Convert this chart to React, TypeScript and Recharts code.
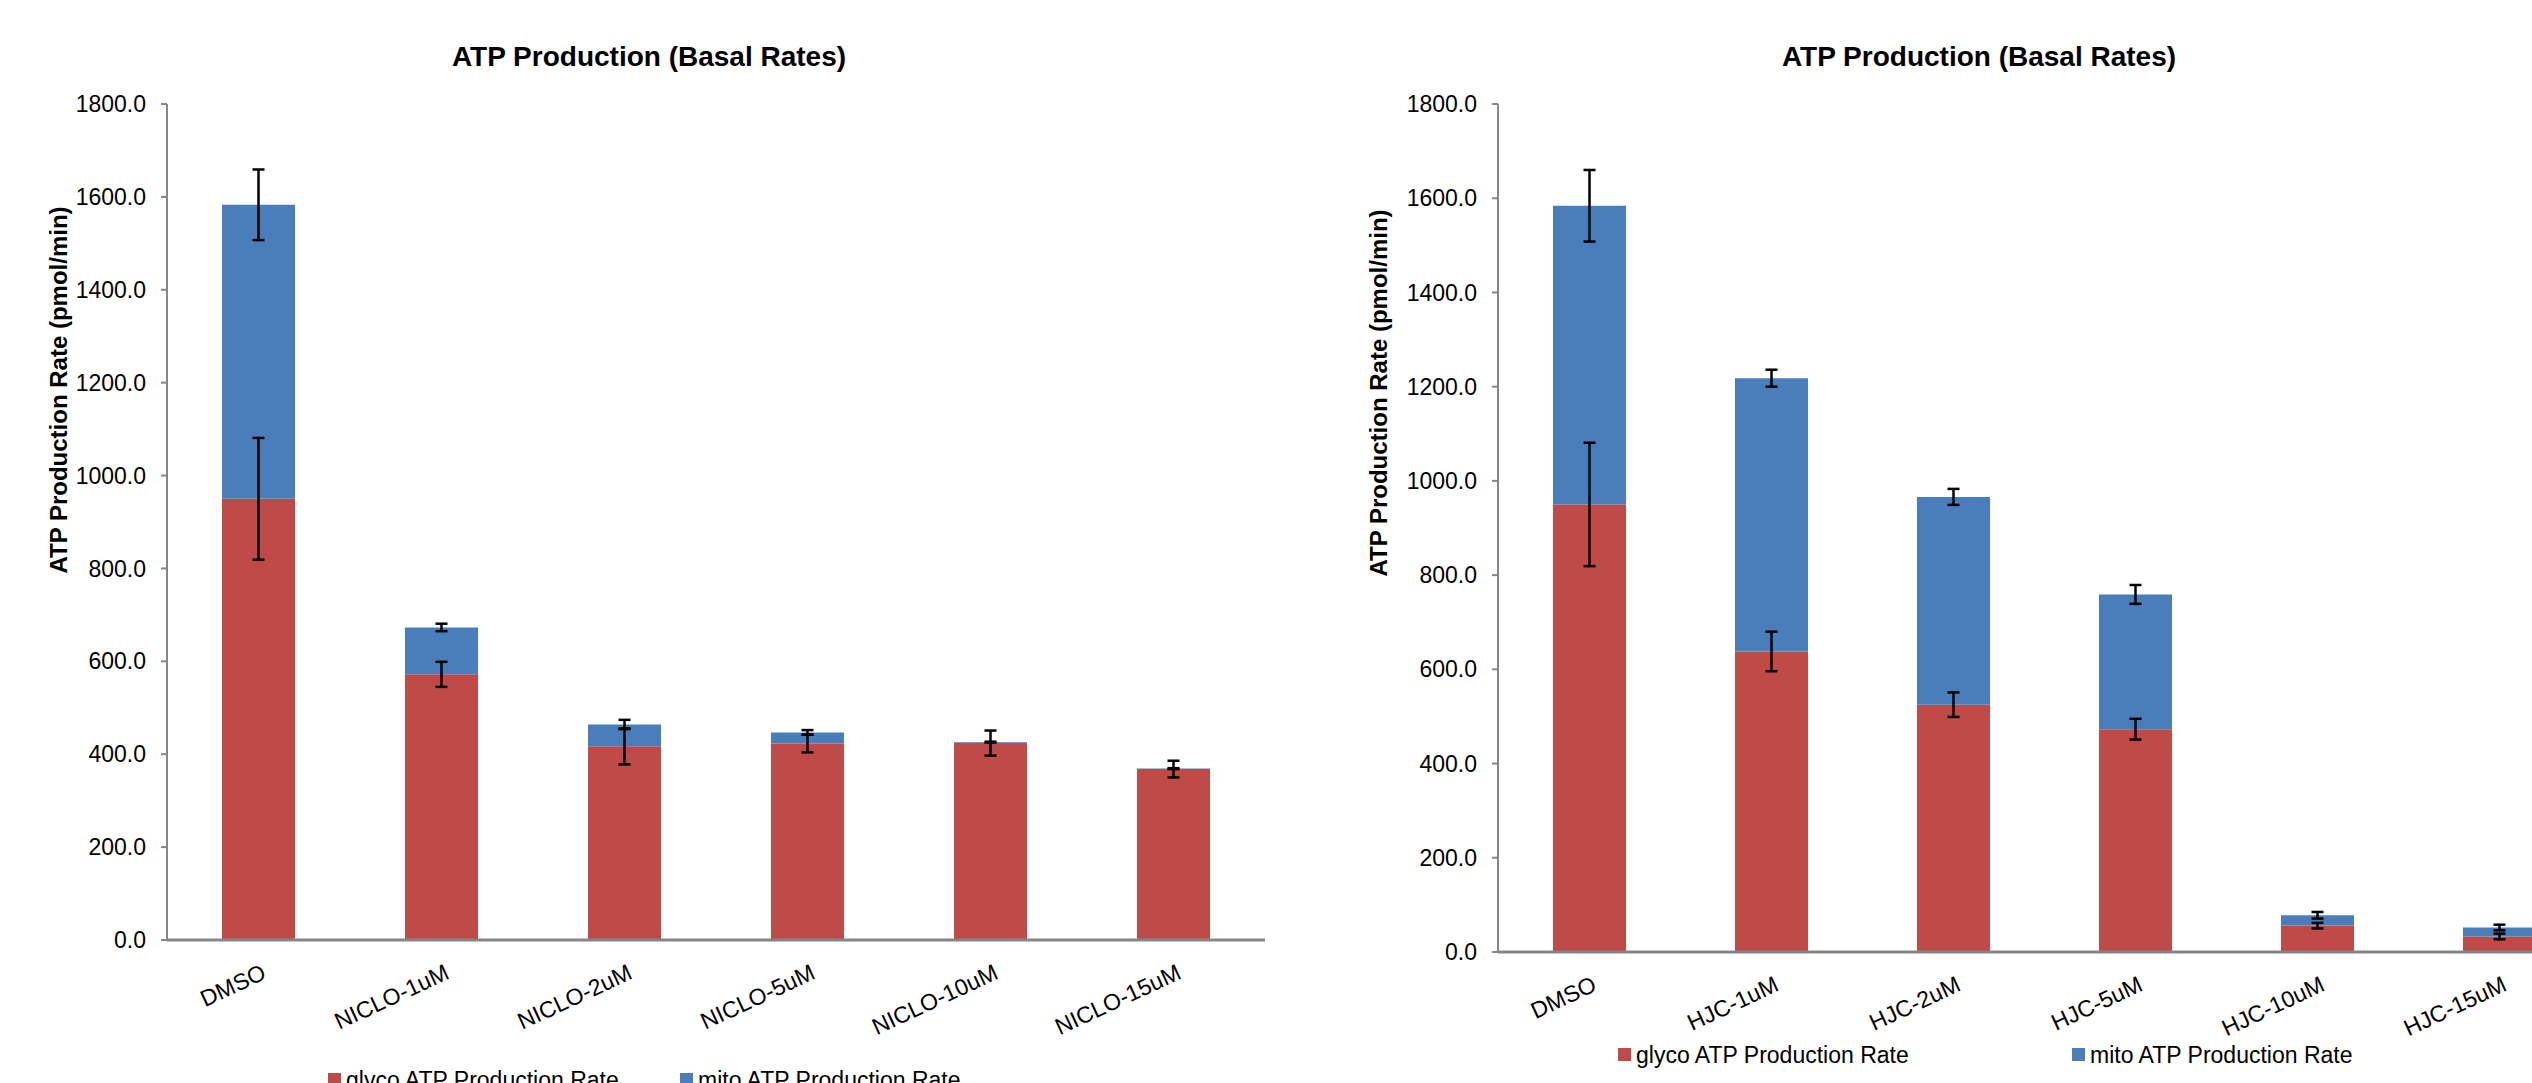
import { BarChart, Bar, XAxis, YAxis, ErrorBar, Label } from "recharts";

const FONT = '"Liberation Sans", Arial, sans-serif';
const RED = "#BE4B48";
const BLUE = "#4A7EBB";
const AXIS = "#868686";

const yTicks = [0, 200, 400, 600, 800, 1000, 1200, 1400, 1600, 1800];

const nicloCategories = ["DMSO", "NICLO-1uM", "NICLO-2uM", "NICLO-5uM", "NICLO-10uM", "NICLO-15uM"];
const nicloGlyco = [950, 572, 417, 423, 424, 368];
const nicloMito = [633, 101, 47, 24, 2, 1];
const nicloGlycoErr = [131, 27, 39, 19, 27, 18];
const nicloMitoErr = [76, 8, 10, 5, 1, 1];

const hjcCategories = ["DMSO", "HJC-1uM", "HJC-2uM", "HJC-5uM", "HJC-10uM", "HJC-15uM"];
const hjcGlyco = [950, 638, 525, 473, 56, 33];
const hjcMito = [634, 580, 441, 286, 22, 19];
const hjcGlycoErr = [131, 42, 26, 22, 6, 6];
const hjcMitoErr = [76, 18, 17, 20, 7, 6];

function buildRows(cats: string[], glyco: number[], mito: number[], gErr: number[], mErr: number[]) {
  return cats.map((name, i) => ({
    name,
    glyco: glyco[i],
    mito: mito[i],
    glycoErr: gErr[i],
    mitoErr: mErr[i],
  }));
}

const nicloRows = buildRows(nicloCategories, nicloGlyco, nicloMito, nicloGlycoErr, nicloMitoErr);
const hjcRows = buildRows(hjcCategories, hjcGlyco, hjcMito, hjcGlycoErr, hjcMitoErr);

function SlantTick(props: any) {
  const { x, y, payload } = props;
  const ax = x + 9;
  const ay = y + 38;
  return (
    <text
      x={ax}
      y={ay}
      transform={`rotate(-25 ${ax} ${ay})`}
      textAnchor="end"
      fontSize={23}
      fontFamily={FONT}
      fill="#000"
    >
      {payload.value}
    </text>
  );
}

interface PanelProps {
  rows: ReturnType<typeof buildRows>;
  left: number;
  width: number;
  margin: { top: number; right: number; bottom: number; left: number };
  labelX: number;
  labelY: number;
}

function Panel({ rows, left, width, margin, labelX, labelY }: PanelProps) {
  return (
    <div style={{ position: "absolute", left, top: 0 }}>
      <BarChart width={width} height={1083} data={rows} margin={margin} barSize={73}>
        <XAxis
          dataKey="name"
          interval={0}
          height={50}
          tickLine={false}
          tickSize={0}
          tickMargin={0}
          axisLine={{ stroke: AXIS, strokeWidth: 3 }}
          tick={<SlantTick />}
        />
        <YAxis
          width={90}
          domain={[0, 1800]}
          ticks={yTicks}
          interval={0}
          tickFormatter={(v: number) => v.toFixed(1)}
          tickSize={6}
          tickMargin={15}
          axisLine={{ stroke: AXIS, strokeWidth: 2 }}
          tickLine={{ stroke: AXIS, strokeWidth: 2 }}
          tick={{ fontSize: 23, fill: "#000", fontFamily: FONT }}
        >
          <Label
            content={() => (
              <text
                x={labelX}
                y={labelY}
                transform={`rotate(-90 ${labelX} ${labelY})`}
                textAnchor="middle"
                dominantBaseline="central"
                fontSize={24}
                fontWeight="bold"
                fontFamily={FONT}
                fill="#000"
              >
                ATP Production Rate (pmol/min)
              </text>
            )}
          />
        </YAxis>
        <Bar dataKey="glyco" stackId="atp" fill={RED} isAnimationActive={false}>
          <ErrorBar dataKey="glycoErr" width={6} stroke="#000" strokeWidth={2.5} isAnimationActive={false} />
        </Bar>
        <Bar dataKey="mito" stackId="atp" fill={BLUE} isAnimationActive={false}>
          <ErrorBar dataKey="mitoErr" width={6} stroke="#000" strokeWidth={2.5} isAnimationActive={false} />
        </Bar>
      </BarChart>
    </div>
  );
}

function LegendItem({ x, y, color, text }: { x: number; y: number; color: string; text: string }) {
  return (
    <g>
      <rect x={x} y={y - 15} width={13} height={13} fill={color} />
      <text x={x + 18} y={y} fontSize={23} fontFamily={FONT} fill="#000">
        {text}
      </text>
    </g>
  );
}

export default function App() {
  return (
    <div
      style={{
        position: "fixed",
        left: 0,
        top: 0,
        width: 2532,
        height: 1083,
        overflow: "hidden",
        background: "#fff",
      }}
    >
      <Panel
        rows={nicloRows}
        left={0}
        width={1290}
        margin={{ top: 104, right: 25, bottom: 93, left: 77 }}
        labelX={58}
        labelY={390}
      />
      <Panel
        rows={hjcRows}
        left={1290}
        width={1330}
        margin={{ top: 104, right: 30, bottom: 81, left: 118 }}
        labelX={88}
        labelY={393}
      />
      <svg
        width={2532}
        height={1083}
        style={{ position: "absolute", left: 0, top: 0, pointerEvents: "none" }}
      >
        <text x={649} y={66} textAnchor="middle" fontSize={28} fontWeight="bold" fontFamily={FONT} fill="#000">
          ATP Production (Basal Rates)
        </text>
        <text x={1979} y={66} textAnchor="middle" fontSize={28} fontWeight="bold" fontFamily={FONT} fill="#000">
          ATP Production (Basal Rates)
        </text>
        <LegendItem x={328} y={1088} color={RED} text="glyco ATP Production Rate" />
        <LegendItem x={680} y={1088} color={BLUE} text="mito ATP Production Rate" />
        <LegendItem x={1618} y={1063} color={RED} text="glyco ATP Production Rate" />
        <LegendItem x={2072} y={1063} color={BLUE} text="mito ATP Production Rate" />
      </svg>
    </div>
  );
}
